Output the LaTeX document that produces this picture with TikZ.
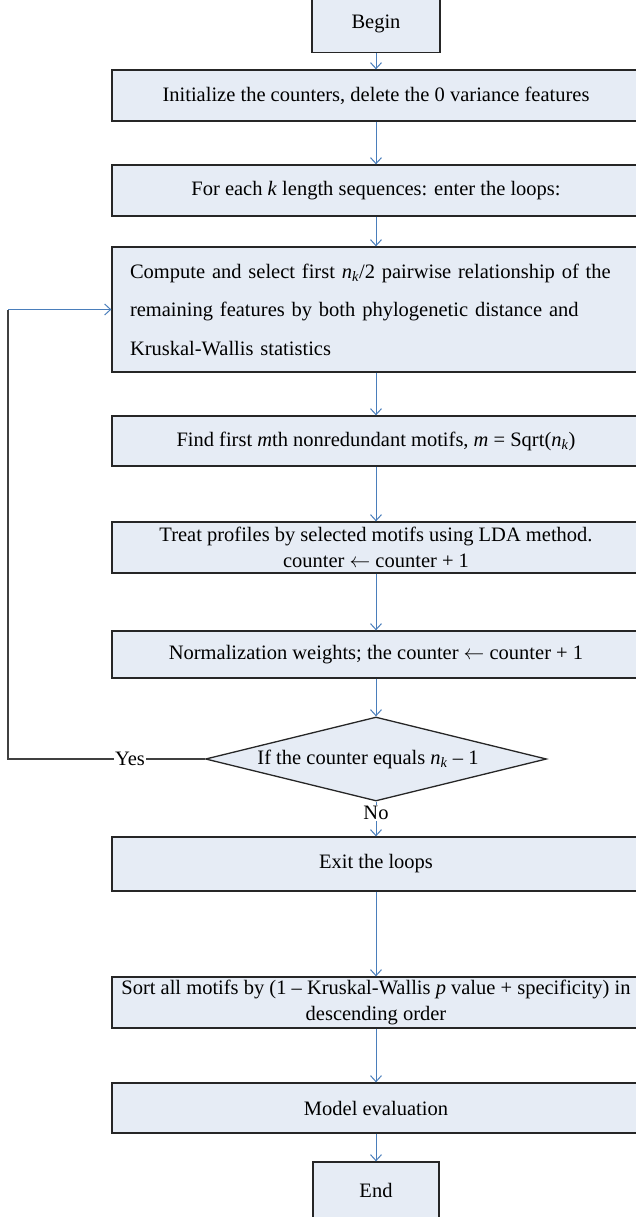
\documentclass[tikz,border=0pt]{standalone}
\usepackage{fontspec}
\setmainfont{Liberation Serif}
\usetikzlibrary{arrows.meta, positioning, shapes.geometric}
\definecolor{boxfill}{RGB}{230,236,245}
\definecolor{flowblue}{RGB}{74,126,187}
\definecolor{loopgray}{RGB}{64,64,64}
\newcommand{\nk}{\textit{n}\textsubscript{\textit{k}}}

\begin{document}
\begin{tikzpicture}[x=1pt, y=-1pt,
    box/.style={draw=black!85, line width=1.3pt, fill=boxfill, minimum width=528pt,
        minimum height=51pt, inner sep=0pt, align=center, font=\fontsize{20.5}{26.5}\selectfont},
    arr/.style={draw=flowblue, line width=1pt, -{Straight Barb[length=6pt, width=11pt]}},
    loopline/.style={draw=loopgray, line width=1.4pt},
    lbl/.style={fill=white, inner sep=1pt, font=\fontsize{20.5}{24}\selectfont}]
\useasboundingbox (0,0) rectangle (636,1217);
\clip (0,0) rectangle (636,1217);

\node[box, minimum width=128pt, minimum height=57pt] (begin) at (376,24) {Begin};
\node[box] (init) at (376,95.5) {Initialize the counters, delete the 0 variance features};
\node[box] (each) at (376,190.5) {For each \textit{k} length sequences: enter the loops:};
\node[box, minimum height=125pt, text width=492pt, align=left,
    font=\fontsize{20.5}{38.5}\selectfont] (comp) at (376,309.5)
    {Compute and select first \nk/2 pairwise relationship of the\\
     remaining features by both phylogenetic distance and\\
     Kruskal-Wallis statistics};
\node[box, minimum height=50pt] (find) at (376,441)
    {Find first \textit{m}th nonredundant motifs, \textit{m} = Sqrt(\nk)};
\node[box] (treat) at (376,547.5)
    {Treat profiles by selected motifs using LDA method.\\
     counter $\leftarrow$ counter + 1};
\node[box, minimum height=47pt] (norm) at (376,654.5)
    {Normalization weights; the counter $\leftarrow$ counter + 1};
\node[box, diamond, aspect=4, minimum width=341pt, minimum height=84pt] (dia) at (376,759)
    {If the counter equals \nk{} -- 1\hspace*{16pt}};
\node[box, minimum height=54pt] (exit) at (376,864) {Exit the loops};
\node[box] (sort) at (376,1002.5)
    {Sort all motifs by (1 -- Kruskal-Wallis \textit{p} value + specificity) in\\
     descending order};
\node[box, minimum height=50pt] (model) at (376,1108) {Model evaluation};
\node[box, minimum width=126pt, minimum height=57pt] (end) at (376,1190.5) {End};

\foreach \a/\b in {begin/init, init/each, each/comp, comp/find, find/treat,
    treat/norm, norm/dia, exit/sort, sort/model, model/end}
    \draw[arr] (\a) -- (\b);
\draw[arr] (dia) -- node[lbl, pos=0.32] {No} (exit);

% back to the top of the loop
\coordinate (back) at (8,309.5);
\draw[loopline] (dia.west) -- node[lbl, pos=0.38] {Yes} (back |- dia.west) -- (back);
\draw[arr] (back) -- (comp.west);
\end{tikzpicture}
\end{document}
